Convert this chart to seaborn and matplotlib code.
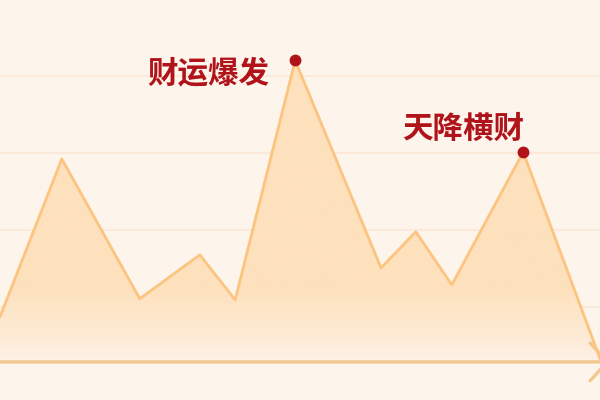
import numpy as np
import pandas as pd
import seaborn as sns
import matplotlib.pyplot as plt
from matplotlib.patches import Polygon

# data
x_pos = [0, 10.3, 23.3, 33.3, 39.2, 49.2, 63.5, 69.3, 75.3, 87.2, 100.2]
values = [17.4, 58.4, 22.1, 33.5, 21.8, 84.0, 30.1, 39.5, 25.7, 60.2, 5.7]
grid_levels = [20, 40, 60, 80]
base = 5.7
labels = ["财运爆发", "天降横财"]
label_idx = [5, 9]

bg = "#fdf4eb"
fill_top = "#fee1bd"
line_col = "#fcc47e"
red = "#b0141a"

sns.set_style("white", {"axes.facecolor": bg, "figure.facecolor": bg})
plt.rcParams['font.family'] = ['Noto Sans CJK SC', 'DejaVu Sans']

df = pd.DataFrame({"x": x_pos, "v": values})

fig = plt.figure(figsize=(6, 4), dpi=100)
ax = fig.add_axes([0, 0, 1, 1])
ax.set_xlim(0, 100)
ax.set_ylim(-4.2, 99.7)

for g in grid_levels:
    ax.axhline(g, color="#fde7d6", lw=1.2, zorder=0)

# gradient area under the line
poly = Polygon(list(zip(df.x, df.v)) + [(df.x.iloc[-1], base), (df.x.iloc[0], base)],
               closed=True, facecolor="none", edgecolor="none")
ax.add_patch(poly)
c_top = np.array(plt.matplotlib.colors.to_rgb(fill_top))
c_bot = np.array(plt.matplotlib.colors.to_rgb("#fdf2e8"))
ys = np.linspace(0, 1, 256)[:, None]
t = np.clip(ys / 0.25, 0, 1) ** 0.8  # 0 at base, 1 higher up
grad = c_bot[None, :] * (1 - t) + c_top[None, :] * t
img = np.repeat(grad[:, None, :], 2, axis=1)
im = ax.imshow(img, extent=[0, 101, base, max(values)], origin="lower",
               aspect="auto", zorder=1, interpolation="bicubic")
im.set_clip_path(poly)

sns.lineplot(data=df, x="x", y="v", ax=ax, color=line_col, lw=2, zorder=3)

# x axis with arrow head
ax.annotate("", xy=(101.6, base), xytext=(-1, base),
            arrowprops=dict(arrowstyle="->, head_length=0.62, head_width=0.68",
                            color="#f1c88f", lw=2.4, mutation_scale=20,
                            shrinkA=0, shrinkB=0),
            annotation_clip=False, zorder=2)

# highlighted peaks
for i, txt, off in zip(label_idx, labels, [(-19, -9), (1, 16.5)]):
    ax.plot(df.x[i], df.v[i], "o", color=red, ms=7.5, zorder=4)
    ax.annotate(txt, (df.x[i], df.v[i]), xytext=off, textcoords="offset points",
                ha="right", va="center", fontsize=22, fontweight="bold",
                color=red, zorder=5)

ax.set_axis_off()
fig.savefig("out.png", dpi=100, facecolor=bg)
